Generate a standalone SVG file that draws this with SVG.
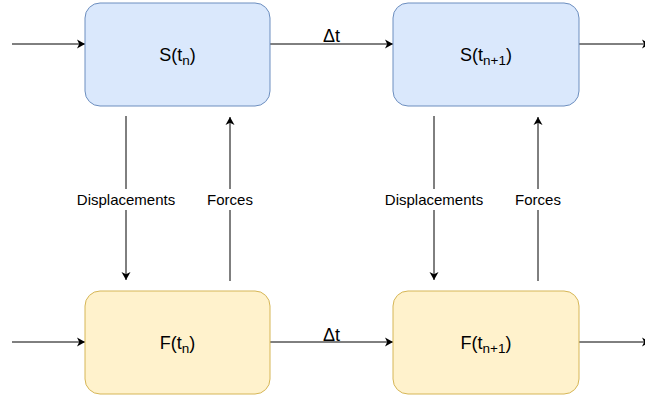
<svg xmlns="http://www.w3.org/2000/svg" width="645" height="398" viewBox="0 0 645 398">
<style>
.s{fill:#dae8fc;stroke:#6c8ebf;stroke-width:1}
.f{fill:#fff2cc;stroke:#d6b656;stroke-width:1}
.t{font-family:"Liberation Sans",Arial,sans-serif;font-size:18px;fill:#000;text-anchor:middle}
.sub{font-size:13.5px}
.l{font-family:"Liberation Sans",Arial,sans-serif;font-size:15px;fill:#000;text-anchor:middle}
.c{stroke:#000;stroke-width:1;fill:none;marker-end:url(#a)}
.bg{fill:#fff}
</style>
<defs>
<marker id="a" markerUnits="userSpaceOnUse" markerWidth="10" markerHeight="10" refX="8" refY="4.5" orient="auto" viewBox="0 0 10 9">
<path d="M0,0 L8,4.5 L0,9 L2.2,4.5 z" fill="#000"/>
</marker>
</defs>
<g id="connectors">
<path class="c" d="M12,44 H85"/>
<path class="c" d="M270,44 H393"/>
<path class="c" d="M579,44 H650"/>
<path class="c" d="M12,342 H85"/>
<path class="c" d="M270,342 H393"/>
<path class="c" d="M579,342 H650"/>
<path class="c" d="M126,116 V280"/>
<path class="c" d="M230,281 V117"/>
<path class="c" d="M434,116 V280"/>
<path class="c" d="M538,281 V117"/>
<rect class="bg" x="75" y="189" width="102" height="21"/>
<rect class="bg" x="206" y="189" width="48" height="21"/>
<rect class="bg" x="383" y="189" width="102" height="21"/>
<rect class="bg" x="514" y="189" width="48" height="21"/>
<text class="l" x="126" y="205">Displacements</text>
<text class="l" x="230" y="205">Forces</text>
<text class="l" x="434" y="205">Displacements</text>
<text class="l" x="538" y="205">Forces</text>
<text class="t" x="331.5" y="41.5">Δt</text>
<text class="t" x="331.5" y="340.5">Δt</text>
</g>
<g id="S_tn">
<rect class="s" x="85" y="3" width="185" height="103" rx="15" ry="15"/>
<text class="t" x="177.5" y="60.5">S(t<tspan class="sub" dy="4">n</tspan><tspan dy="-4">)</tspan></text>
</g>
<g id="S_tn1">
<rect class="s" x="393" y="3" width="186" height="103" rx="15" ry="15"/>
<text class="t" x="486" y="60.5">S(t<tspan class="sub" dy="4">n+1</tspan><tspan dy="-4">)</tspan></text>
</g>
<g id="F_tn">
<rect class="f" x="85" y="291" width="185" height="103" rx="15" ry="15"/>
<text class="t" x="177.5" y="348.5">F(t<tspan class="sub" dy="4">n</tspan><tspan dy="-4">)</tspan></text>
</g>
<g id="F_tn1">
<rect class="f" x="393" y="291" width="186" height="103" rx="15" ry="15"/>
<text class="t" x="486" y="348.5">F(t<tspan class="sub" dy="4">n+1</tspan><tspan dy="-4">)</tspan></text>
</g>
</svg>
